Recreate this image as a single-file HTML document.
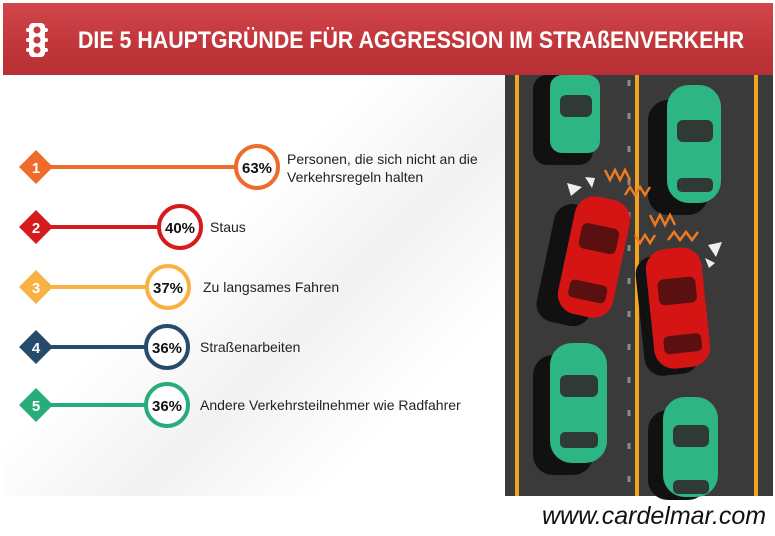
<!DOCTYPE html>
<html><head><meta charset="utf-8"><style>
body{margin:0;width:775px;height:536px;background:#fff;position:relative;overflow:hidden;font-family:"Liberation Sans",sans-serif}
.hdr{position:absolute;left:3px;top:3px;width:770px;height:72px;background:linear-gradient(#d0464a,#c1373b 55%,#b83034)}
.hdr h1{position:absolute;left:75px;top:24px;margin:0;color:#fff;font-size:24px;line-height:28px;font-weight:bold;white-space:nowrap;transform:scaleX(.89);transform-origin:left}
.bg{position:absolute;left:3px;top:75px;width:502px;height:421px;background:linear-gradient(135deg,#fff 40%,#f2f2f2 60%,#fff 80%)}
.t{position:absolute;font-size:14px;color:#222;line-height:18px;white-space:nowrap}
.w{position:absolute;left:542px;top:502px;font-size:25px;font-style:italic;color:#111;white-space:nowrap}
</style></head><body>
<div class="hdr"><h1>DIE 5 HAUPTGRÜNDE FÜR AGGRESSION IM STRAßENVERKEHR</h1>
<svg style="position:absolute;left:23px;top:20px" width="22" height="34" viewBox="0 0 22 34"><rect x="3" y="0" width="16" height="34" rx="4" fill="#fff"/><rect x="0" y="5" width="22" height="4" rx="2" fill="#fff"/><rect x="0" y="15" width="22" height="4" rx="2" fill="#fff"/><rect x="0" y="25" width="22" height="4" rx="2" fill="#fff"/><circle cx="11" cy="7" r="3.5" fill="#c43a3e"/><circle cx="11" cy="17" r="3.5" fill="#c43a3e"/><circle cx="11" cy="27" r="3.5" fill="#c43a3e"/></svg></div>
<div class="bg"></div>
<svg style="position:absolute;left:0;top:0" width="775" height="536">
<g font-family="Liberation Sans" font-weight="bold" text-anchor="middle">
<g><line x1="36" y1="167" x2="240" y2="167" stroke="#ef6b2c" stroke-width="4"/><rect x="24" y="155" width="24" height="24" transform="rotate(45 36 167)" fill="#ef6b2c"/><text x="36" y="173" fill="#fff" font-size="15">1</text><circle cx="257" cy="167" r="21" fill="#fff" stroke="#ef6b2c" stroke-width="4"/><text x="257" y="173" font-size="15" fill="#111">63%</text></g>
<g><line x1="36" y1="227" x2="162" y2="227" stroke="#d51b1b" stroke-width="4"/><rect x="24" y="215" width="24" height="24" transform="rotate(45 36 227)" fill="#d51b1b"/><text x="36" y="233" fill="#fff" font-size="15">2</text><circle cx="180" cy="227" r="21" fill="#fff" stroke="#d51b1b" stroke-width="4"/><text x="180" y="233" font-size="15" fill="#111">40%</text></g>
<g><line x1="36" y1="287" x2="150" y2="287" stroke="#f8b244" stroke-width="4"/><rect x="24" y="275" width="24" height="24" transform="rotate(45 36 287)" fill="#f8b244"/><text x="36" y="293" fill="#fff" font-size="15">3</text><circle cx="168" cy="287" r="21" fill="#fff" stroke="#f8b244" stroke-width="4"/><text x="168" y="293" font-size="15" fill="#111">37%</text></g>
<g><line x1="36" y1="347" x2="150" y2="347" stroke="#274c6b" stroke-width="4"/><rect x="24" y="335" width="24" height="24" transform="rotate(45 36 347)" fill="#274c6b"/><text x="36" y="353" fill="#fff" font-size="15">4</text><circle cx="167" cy="347" r="21" fill="#fff" stroke="#274c6b" stroke-width="4"/><text x="167" y="353" font-size="15" fill="#111">36%</text></g>
<g><line x1="36" y1="405" x2="150" y2="405" stroke="#28ad7a" stroke-width="4"/><rect x="24" y="393" width="24" height="24" transform="rotate(45 36 405)" fill="#28ad7a"/><text x="36" y="411" fill="#fff" font-size="15">5</text><circle cx="167" cy="405" r="21" fill="#fff" stroke="#28ad7a" stroke-width="4"/><text x="167" y="411" font-size="15" fill="#111">36%</text></g>
</g>
<rect x="505" y="75" width="268" height="421" fill="#3a3a3a"/>
<rect x="515" y="75" width="4" height="421" fill="#f3a41f"/>
<rect x="635" y="75" width="4" height="421" fill="#f3a41f"/>
<rect x="754" y="75" width="4" height="421" fill="#f3a41f"/>
<line x1="629" y1="80" x2="629" y2="496" stroke="#8a8a8a" stroke-width="3" stroke-dasharray="6 27"/>
<g fill="#111">
<rect x="533" y="75" width="60" height="90" rx="14"/><rect x="648" y="100" width="60" height="115" rx="20"/>
<rect x="533" y="355" width="60" height="120" rx="20"/><rect x="648" y="410" width="60" height="90" rx="20"/>
<rect x="545" y="205" width="55" height="120" rx="18" transform="rotate(12 572 265)"/><rect x="640" y="255" width="55" height="120" rx="18" transform="rotate(-6 667 315)"/>
</g>
<g fill="#2db584">
<rect x="550" y="75" width="50" height="78" rx="12"/><rect x="667" y="85" width="54" height="118" rx="22"/>
<rect x="550" y="343" width="57" height="120" rx="22"/><rect x="663" y="397" width="55" height="100" rx="22"/>
</g>
<g fill="#d51414">
<rect x="566" y="197" width="56" height="120" rx="20" transform="rotate(12 594 257)"/><rect x="650" y="248" width="56" height="120" rx="20" transform="rotate(-6 678 308)"/>
</g>
<g fill="#2f3a36">
<rect x="560" y="95" width="32" height="22" rx="6"/><rect x="677" y="120" width="36" height="22" rx="6"/><rect x="677" y="178" width="36" height="14" rx="5"/>
<rect x="560" y="375" width="38" height="22" rx="6"/><rect x="560" y="432" width="38" height="16" rx="5"/><rect x="673" y="425" width="36" height="22" rx="6"/><rect x="673" y="480" width="36" height="14" rx="5"/>
</g>
<g fill="#5a1010"><rect x="576" y="225" width="38" height="26" rx="6" transform="rotate(12 594 257)"/><rect x="576" y="283" width="38" height="18" rx="5" transform="rotate(12 594 257)"/><rect x="660" y="278" width="38" height="26" rx="6" transform="rotate(-6 678 308)"/><rect x="660" y="335" width="38" height="18" rx="5" transform="rotate(-6 678 308)"/></g>
<g stroke="#f07a20" stroke-width="2.5" fill="none">
<path d="M605 170 l5 10 l5-10 l5 10 l5-10 l5 10"/><path d="M625 195 l5-8 l5 8 l5-8 l5 8 l5-8"/><path d="M650 215 l5 10 l5-10 l5 10 l5-10 l5 10"/><path d="M668 240 l6-8 l6 8 l6-8 l6 8 l6-8"/><path d="M635 235 l5 8 l5-8 l5 8 l5-8"/>
</g>
<g fill="#eee"><polygon points="567,183 582,187 571,196"/><polygon points="585,177 595,178 592,188"/><polygon points="708,245 722,242 716,257"/><polygon points="705,258 715,263 709,268"/></g>
</svg>
<div class="t" style="left:287px;top:150px">Personen, die sich nicht an die<br>Verkehrsregeln halten</div>
<div class="t" style="left:210px;top:218px">Staus</div>
<div class="t" style="left:203px;top:278px">Zu langsames Fahren</div>
<div class="t" style="left:200px;top:338px">Straßenarbeiten</div>
<div class="t" style="left:200px;top:396px">Andere Verkehrsteilnehmer wie Radfahrer</div>
<div class="w">www.cardelmar.com</div>
</body></html>
